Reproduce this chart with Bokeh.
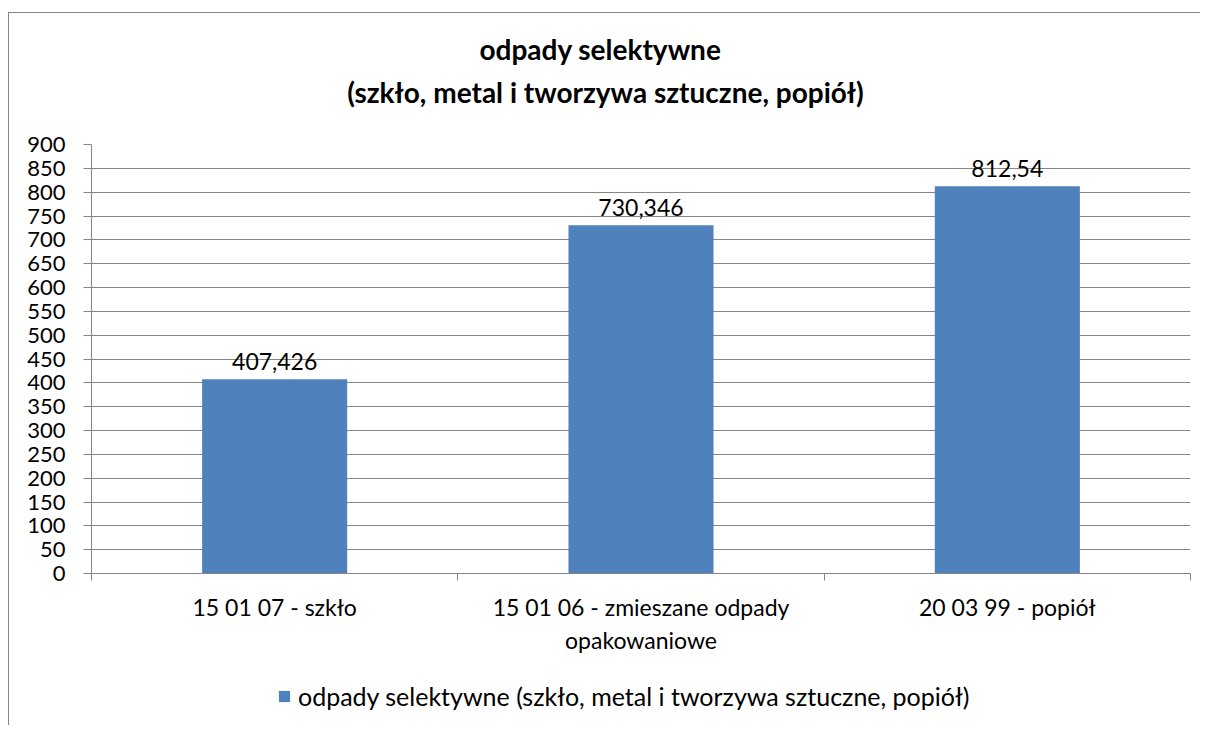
from bokeh.plotting import figure
from bokeh.layouts import column
from bokeh.models import (ColumnDataSource, FixedTicker, Legend, LegendItem, Range1d)
from bokeh.core.properties import value
from bokeh.embed import file_html
from bokeh.resources import INLINE

# ---- data ----
categories = ["15 01 07 - szkło", "15 01 06 - zmieszane odpady\nopakowaniowe", "20 03 99 - popiół"]
values = [407.426, 730.346, 812.54]
value_labels = ["407,426", "730,346", "812,54"]
series_name = "odpady selektywne (szkło, metal i tworzywa sztuczne, popiół)"
title_lines = ["odpady selektywne", "(szkło, metal i tworzywa sztuczne, popiół)"]
y_ticks = list(range(0, 901, 50))

FONT = "Lato"
GRAY = "#868686"
BAR = "#4F81BD"
W = 1200
TOP_H, MAIN_H, LEG_H = 130, 540, 55
FRAME_L, FRAME_R = 91, 1190   # frames of the stacked figures are aligned by the column


def border_css(top_line):
    if top_line:
        return {"background-color": "white",
                "background-image": f"linear-gradient({GRAY},{GRAY}), linear-gradient({GRAY},{GRAY})",
                "background-size": "1px 100%, 100% 1px",
                "background-position": "8px 12px, 8px 12px",
                "background-repeat": "no-repeat"}
    return {"background-color": "white",
            "background-image": f"linear-gradient({GRAY},{GRAY})",
            "background-size": "1px 100%",
            "background-position": "8px 0px",
            "background-repeat": "no-repeat"}


def bare(fig):
    fig.outline_line_color = None
    fig.background_fill_alpha = 0
    fig.border_fill_alpha = 0
    fig.xgrid.visible = False
    fig.ygrid.visible = False


# ---------------- title strip ----------------
pt = figure(width=W, height=TOP_H, output_backend="svg", toolbar_location=None,
            x_range=Range1d(FRAME_L, FRAME_R), y_range=Range1d(TOP_H, 0), min_border=0,
            x_axis_location=None, y_axis_location=None)
bare(pt)
pt.styles = border_css(True)
pt.text(x=[600, 605], y=[48, 91], text=title_lines, text_align="center", text_baseline="middle",
        text_font=value(FONT), text_font_style="bold", text_font_size="28px", text_color="black")

# ---------------- main chart ----------------
xs = [i + 0.5 for i in range(len(categories))]
src = ColumnDataSource(dict(x=xs, top=values, lab=value_labels))

p = figure(width=W, height=MAIN_H, output_backend="svg", toolbar_location=None, title=None,
           x_range=Range1d(0, len(categories)), y_range=Range1d(0, 900),
           min_border_left=FRAME_L, min_border_right=W - FRAME_R, min_border_top=14,
           min_border_bottom=MAIN_H - 14 - 429)
p.outline_line_color = None
p.background_fill_color = "white"
p.border_fill_alpha = 0
p.styles = border_css(False)

bars = p.vbar(x="x", top="top", width=0.396, source=src, fill_color=BAR, line_color=None)
p.text(x="x", y="top", text="lab", source=src, text_align="center", text_baseline="alphabetic",
       y_offset=-18, text_font=value(FONT), text_font_size="23px", text_color="black")

p.xgrid.grid_line_color = None
p.ygrid.grid_line_color = GRAY
p.ygrid.ticker = FixedTicker(ticks=y_ticks)

ya = p.yaxis[0]
ya.ticker = FixedTicker(ticks=y_ticks)
ya.axis_line_color = GRAY
ya.major_tick_line_color = GRAY
ya.major_tick_out = 8
ya.major_tick_in = 0
ya.minor_tick_line_color = None
ya.major_label_text_font = FONT
ya.major_label_text_font_size = "22px"
ya.major_label_text_color = "black"
ya.major_label_standoff = 18

xa = p.xaxis[0]
xa.ticker = FixedTicker(ticks=xs, minor_ticks=list(range(len(categories) + 1)))
xa.major_label_overrides = {x: c for x, c in zip(xs, categories)}
xa.axis_line_color = GRAY
xa.major_tick_line_color = None
xa.major_tick_out = 0
xa.major_tick_in = 0
xa.minor_tick_line_color = GRAY
xa.minor_tick_out = 7
xa.minor_tick_in = 0
xa.major_label_text_font = FONT
xa.major_label_text_font_size = "23px"
xa.major_label_text_color = "black"
xa.major_label_standoff = 12

# ---------------- legend strip ----------------
pl = figure(width=W, height=LEG_H, output_backend="svg", toolbar_location=None,
            x_range=Range1d(0, len(categories)), y_range=Range1d(0, 900), min_border=0,
            x_axis_location=None, y_axis_location=None)
bare(pl)
pl.styles = border_css(False)
# legend key: same series, hidden in this strip (only its swatch is shown)
key = pl.vbar(x="x", top="top", width=0.396, source=src, fill_color=BAR, line_color=None,
              visible=False)
legend = Legend(items=[LegendItem(label=series_name, renderers=[key])],
                location=(277 - FRAME_L, 14), orientation="horizontal",
                border_line_color=None, background_fill_alpha=0,
                inactive_fill_alpha=0,
                label_text_font=FONT, label_text_font_size="25px", label_text_color="black",
                glyph_width=14, glyph_height=14, label_standoff=7, padding=0, margin=0)
pl.add_layout(legend, "center")

layout = column(pt, p, pl, spacing=0)
open("out.html", "w").write(file_html(layout, INLINE))
